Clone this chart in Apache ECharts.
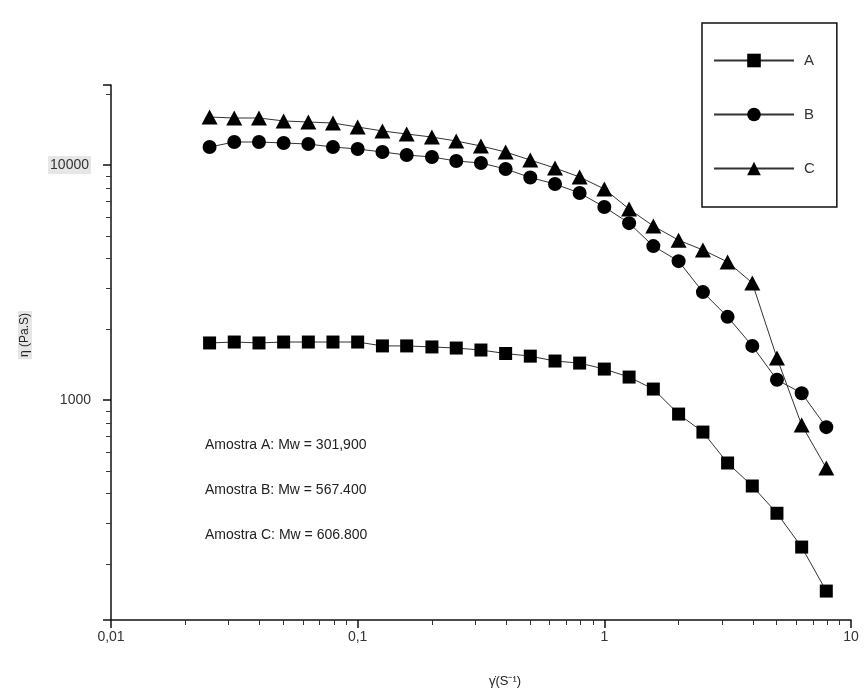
<!DOCTYPE html>
<html>
<head>
<meta charset="utf-8">
<script src="https://cdn.jsdelivr.net/npm/echarts@6/dist/echarts.min.js"></script>
<style>
html,body{margin:0;padding:0;background:#fff;}
#chart{width:867px;height:691px;}
</style>
</head>
<body>
<div id="chart"></div>
<script>
// Shear rate (1/s) — 0.1 decade steps
const shearRate = [0.0251, 0.0316, 0.0398, 0.0501, 0.0631, 0.0794, 0.1, 0.126, 0.158, 0.2, 0.251, 0.316, 0.398, 0.501, 0.631, 0.794, 1, 1.26, 1.58, 2, 2.51, 3.16, 3.98, 5.01, 6.31, 7.94];
// Viscosity (Pa.s)
const etaA = [1750, 1766, 1750, 1766, 1766, 1766, 1766, 1700, 1700, 1683, 1665, 1633, 1578, 1538, 1466, 1437, 1355, 1253, 1114, 872, 731, 540, 431, 330, 237, 154];
const etaB = [11930, 12530, 12530, 12410, 12280, 11930, 11700, 11360, 11030, 10820, 10400, 10200, 9620, 8850, 8300, 7600, 6630, 5660, 4520, 3900, 2880, 2260, 1700, 1220, 1070, 767];
const etaC = [16000, 15850, 15850, 15400, 15240, 15090, 14510, 13960, 13550, 13150, 12650, 12050, 11360, 10500, 9710, 8890, 7910, 6500, 5500, 4790, 4350, 3870, 3150, 1510, 783, 514];
const seriesNames = ['A', 'B', 'C'];
const xTickLabels = {0.01: '0,01', 0.1: '0,1', 1: '1', 10: '10'};
const yTickLabels = {1000: '1000', 10000: '{g|10000}'};
const notes = ['Amostra A: Mw = 301,900', 'Amostra B: Mw = 567.400', 'Amostra C: Mw = 606.800'];
const xName = 'γ̇(S⁻¹)';
const yName = 'η (Pa.S)';

const chart = echarts.init(document.getElementById('chart'), null, {renderer: 'canvas'});
const font = '"Liberation Sans", Arial, sans-serif';
const pair = (ys) => shearRate.map((x, i) => [x, ys[i]]);

function mk(name, ys, symbol, size) {
  return {
    name: name, type: 'line', data: pair(ys),
    symbol: symbol, symbolSize: size, showSymbol: true,
    lineStyle: {color: '#333', width: 1},
    itemStyle: {color: '#000'},
    emphasis: {disabled: true},
    animation: false, z: 3
  };
}
function pickLabel(map, v) {
  for (const k in map) { if (Math.abs(Math.log10(v) - Math.log10(+k)) < 1e-6) return map[k]; }
  return '';
}

const option = {
  animation: false,
  backgroundColor: '#fff',
  grid: {left: 111, right: 16, top: 85, bottom: 71, containLabel: false},
  xAxis: {
    type: 'log', logBase: 10, min: 0.01, max: 10,
    axisLine: {show: true, lineStyle: {color: '#111', width: 1.5}},
    axisTick: {show: true, inside: false, length: 8, lineStyle: {color: '#111', width: 1.5}},
    minorTick: {show: true, splitNumber: 9, length: 5, lineStyle: {color: '#333', width: 1}},
    splitLine: {show: false}, minorSplitLine: {show: false},
    axisLabel: {
      margin: 10, color: '#333', fontSize: 14, fontFamily: font,
      formatter: (v) => pickLabel(xTickLabels, v)
    }
  },
  yAxis: {
    type: 'log', logBase: 10, min: 116, max: 21900,
    axisLine: {show: true, lineStyle: {color: '#111', width: 1.5}},
    axisTick: {show: true, inside: false, length: 8, lineStyle: {color: '#111', width: 1.5}},
    minorTick: {show: true, splitNumber: 9, length: 5, lineStyle: {color: '#333', width: 1}},
    splitLine: {show: false}, minorSplitLine: {show: false},
    axisLabel: {
      margin: 20, color: '#333', fontSize: 14, fontFamily: font,
      showMinLabel: false, showMaxLabel: false,
      rich: {g: {backgroundColor: '#e6e6e6', padding: [2, 2], fontSize: 14, color: '#333', fontFamily: font}},
      formatter: (v) => pickLabel(yTickLabels, v)
    }
  },
  legend: {
    orient: 'vertical', left: 702, top: 23,
    padding: [30, 22, 31, 11],
    itemWidth: 80, itemHeight: 17, itemGap: 39,
    borderColor: '#111', borderWidth: 1.5, backgroundColor: '#fff',
    textStyle: {fontSize: 15, color: '#333', fontFamily: font, padding: [0, 0, 0, 5]},
    data: seriesNames,
    selectedMode: false
  },
  graphic: [
    {type: 'text', left: 205, top: 438, style: {text: notes[0], font: '14px ' + font, fill: '#222'}},
    {type: 'text', left: 205, top: 483, style: {text: notes[1], font: '14px ' + font, fill: '#222'}},
    {type: 'text', left: 205, top: 528, style: {text: notes[2], font: '14px ' + font, fill: '#222'}},
    {type: 'text', x: 25, y: 335, rotation: Math.PI / 2, style: {text: yName, font: '12px ' + font, fill: '#222', align: 'center', verticalAlign: 'middle', backgroundColor: '#e6e6e6', padding: [1, 2]}},
    {type: 'text', x: 505, y: 681, style: {text: xName, font: '13px ' + font, fill: '#222', align: 'center', verticalAlign: 'middle'}}
  ],
  series: [
    mk(seriesNames[0], etaA, 'rect', 13),
    mk(seriesNames[1], etaB, 'circle', 14),
    mk(seriesNames[2], etaC, 'triangle', [16, 15])
  ]
};
chart.setOption(option);
</script>
</body>
</html>
